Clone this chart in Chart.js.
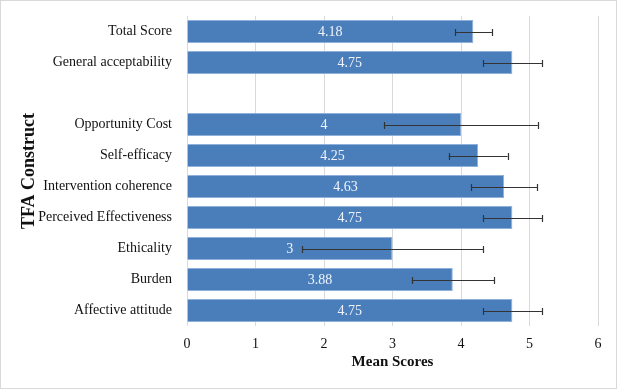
<!DOCTYPE html>
<html lang="en">
  <head>
    <meta charset="UTF-8" />
    <title>TFA Construct</title>
    <script src="https://cdn.jsdelivr.net/npm/chart.js@4"></script>
    <style>
      body { margin: 0; background: #fff; }
    </style>
  </head>
  <body>
    <canvas id="Graph" width="617" height="389"></canvas>

    <script>
      const labels = ['Total Score', 'General acceptability', '', 'Opportunity Cost', 'Self-efficacy',
        'Intervention coherence', 'Perceived Effectiveness', 'Ethicality', 'Burden', 'Affective attitude'];
      const means = [4.18, 4.75, null, 4, 4.25, 4.63, 4.75, 3, 3.88, 4.75];
      const errors = [0.27, 0.43, null, 1.12, 0.43, 0.48, 0.43, 1.32, 0.6, 0.43];
      const xTicks = [0, 1, 2, 3, 4, 5, 6];

      const font = 'Liberation Serif';

      // frame round the whole picture
      const frame = {
        id: 'frame',
        beforeDraw(chart) {
          const ctx = chart.ctx;
          ctx.save();
          ctx.fillStyle = '#fff';
          ctx.fillRect(0, 0, chart.width, chart.height);
          ctx.strokeStyle = '#d9d9d9';
          ctx.lineWidth = 1;
          ctx.strokeRect(0.5, 0.5, chart.width - 1, chart.height - 1);
          ctx.restore();
        }
      };

      // error bars and value labels
      const extras = {
        id: 'extras',
        afterDatasetsDraw(chart) {
          const ctx = chart.ctx;
          const x = chart.scales.x;
          const y = chart.scales.y;
          ctx.save();
          means.forEach((m, i) => {
            if (m === null) return;
            const cy = Math.round(y.getPixelForValue(i)) + 0.5;
            ctx.fillStyle = '#f0f4fa';
            ctx.font = '14px "' + font + '"';
            ctx.textAlign = 'center';
            ctx.textBaseline = 'middle';
            ctx.fillText(String(m), x.getPixelForValue(m / 2), cy);

            const x0 = x.getPixelForValue(m - errors[i]);
            const x1 = x.getPixelForValue(m + errors[i]);
            ctx.strokeStyle = '#333';
            ctx.lineWidth = 1.2;
            ctx.beginPath();
            ctx.moveTo(x0, cy);
            ctx.lineTo(x1, cy);
            ctx.moveTo(Math.round(x0) + 0.5, cy - 3.5);
            ctx.lineTo(Math.round(x0) + 0.5, cy + 3.5);
            ctx.moveTo(Math.round(x1) + 0.5, cy - 3.5);
            ctx.lineTo(Math.round(x1) + 0.5, cy + 3.5);
            ctx.stroke();
          });
          ctx.restore();
        }
      };

      new Chart(document.getElementById('Graph'), {
        type: 'bar',
        data: {
          labels: labels,
          datasets: [{
            data: means,
            backgroundColor: '#4a7ebb',
            borderColor: '#8fb0da',
            borderWidth: 1,
            barPercentage: 0.74,
            categoryPercentage: 1
          }]
        },
        options: {
          indexAxis: 'y',
          responsive: false,
          animation: false,
          layout: { padding: { left: 19, right: 19, top: 16, bottom: 14 } },
          plugins: { legend: { display: false }, tooltip: { enabled: false } },
          scales: {
            x: {
              min: 0,
              max: 6,
              afterBuildTicks(scale) { scale.ticks = xTicks.map(v => ({ value: v })); },
              grid: { color: '#d9d9d9', drawTicks: false },
              border: { display: false },
              ticks: { color: '#111', padding: 10, font: { family: font, size: 14 } },
              title: { display: true, text: 'Mean Scores', color: '#111', padding: { top: 2 },
                font: { family: font, size: 15, weight: 'bold' } },
              afterFit(scale) { scale.height = 49; }
            },
            y: {
              grid: { display: false, drawTicks: false },
              border: { display: false },
              ticks: { color: '#111', padding: 15, font: { family: font, size: 14 } },
              title: { display: true, text: 'TFA Construct', color: '#111', padding: 0,
                font: { family: font, size: 18, weight: 'bold' } },
              afterFit(scale) {
                scale.width = 168;
                scale.paddingTop = 0;
                scale.paddingBottom = 0;
              }
            }
          }
        },
        plugins: [frame, extras]
      });
    </script>
  </body>
</html>
